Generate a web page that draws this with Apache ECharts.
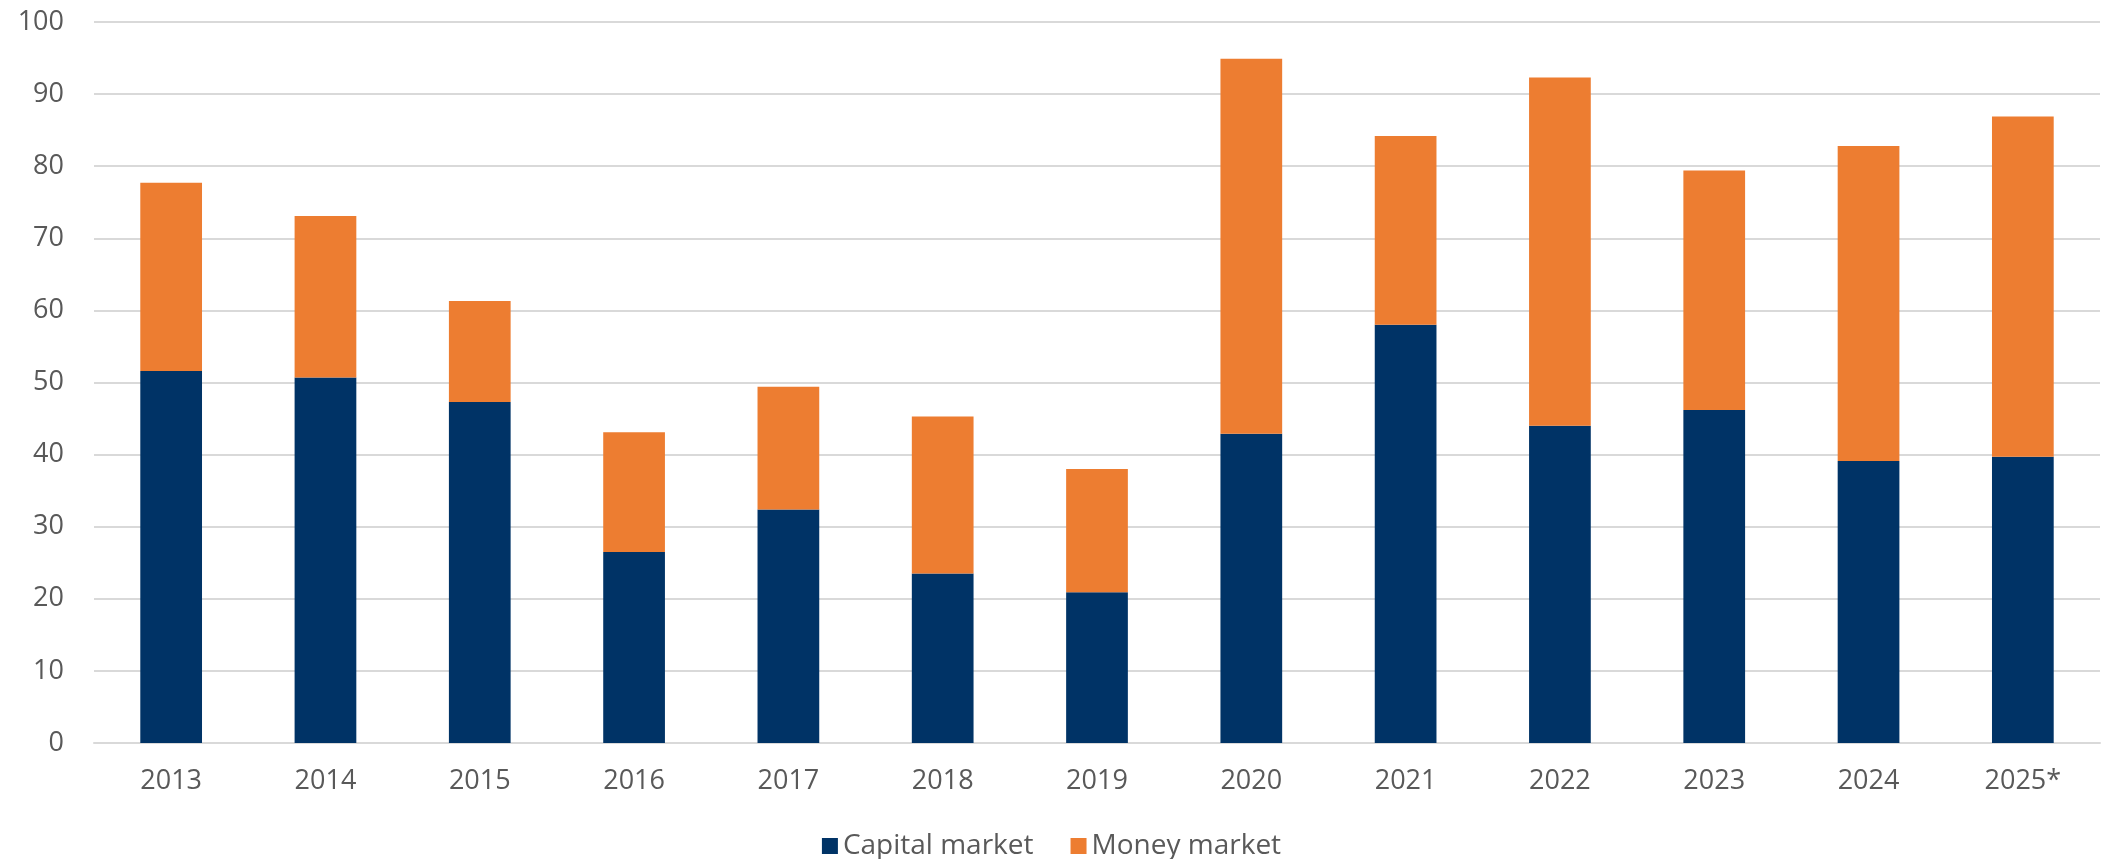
<!DOCTYPE html>
<html>
<head>
<meta charset="utf-8">
<script src="https://cdn.jsdelivr.net/npm/echarts@6/dist/echarts.min.js"></script>
<style>
  html, body { margin: 0; padding: 0; background: #fff; }
  #chart { width: 2103px; height: 859px; }
</style>
</head>
<body>
<div id="chart"></div>
<script>
// years on the x axis
const years = ['2013', '2014', '2015', '2016', '2017', '2018', '2019', '2020', '2021', '2022', '2023', '2024', '2025*'];
// stacked values
const capitalMarket = [51.6, 50.7, 47.3, 26.5, 32.4, 23.5, 20.9, 42.9, 58.0, 44.0, 46.2, 39.1, 39.7];
const moneyMarket = [26.1, 22.4, 14.0, 16.6, 17.0, 21.8, 17.1, 52.0, 26.2, 48.3, 33.2, 43.7, 47.2];

const labelColor = '#595959';
const fontFamily = '"Open Sans", "Noto Sans", sans-serif';

const myChart = echarts.init(document.getElementById('chart'));

const option = {
    animation: false,
    grid: {
        left: 94,
        right: 3,
        top: 22,
        bottom: 116,
        containLabel: false
    },
    legend: {
        top: 827,
        left: 'center',
        itemWidth: 16,
        itemHeight: 16,
        itemGap: 37,
        icon: 'rect',
        textStyle: { color: labelColor, fontSize: 28, fontFamily: fontFamily },
        data: ['Capital market', 'Money market']
    },
    xAxis: {
        type: 'category',
        data: years,
        axisTick: { show: false },
        axisLine: { show: true, lineStyle: { color: '#d9d9d9', width: 2 } },
        axisLabel: { color: labelColor, fontSize: 27, fontFamily: fontFamily, margin: 25, interval: 0 }
    },
    yAxis: {
        type: 'value',
        min: 0,
        max: 100,
        interval: 10,
        axisLine: { show: false },
        axisTick: { show: false },
        axisLabel: { color: labelColor, fontSize: 27, fontFamily: fontFamily, margin: 30 },
        splitLine: { lineStyle: { color: '#d9d9d9', width: 2 } }
    },
    series: [
        {
            name: 'Capital market',
            type: 'bar',
            stack: 'total',
            data: capitalMarket,
            barWidth: '40%',
            itemStyle: { color: '#003366' }
        },
        {
            name: 'Money market',
            type: 'bar',
            stack: 'total',
            data: moneyMarket,
            barWidth: '40%',
            itemStyle: { color: '#ed7d31' }
        }
    ]
};

myChart.setOption(option);
</script>
</body>
</html>
